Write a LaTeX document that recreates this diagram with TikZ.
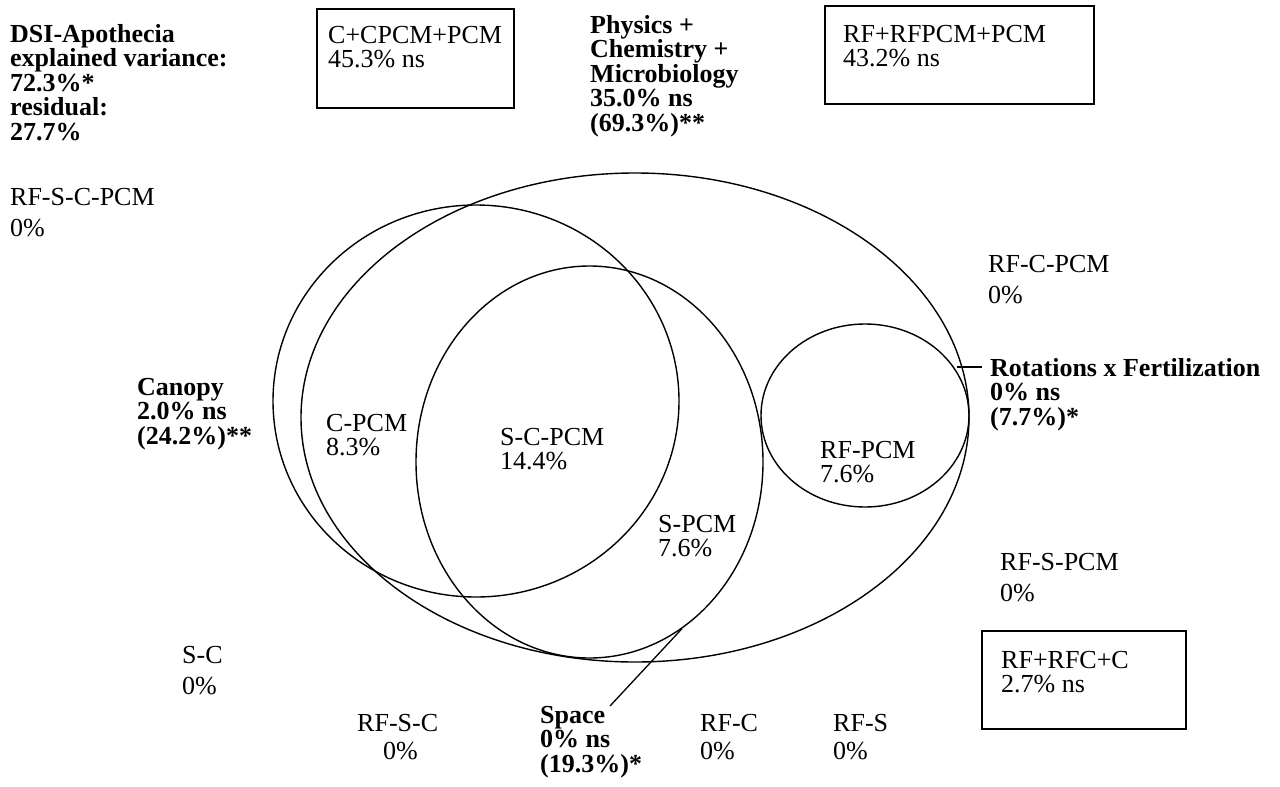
\documentclass[tikz,border=0pt]{standalone}
\usepackage{fontspec}
\setmainfont{Liberation Serif}
\usetikzlibrary{positioning,shapes.geometric}

\tikzset{
  set/.style={draw, ellipse, line width=1.4pt, inner sep=0pt},
  lab/.style={anchor=north west, inner sep=0pt, align=left, font=\fontsize{26}{24.5}\selectfont},
  zero/.style={lab, font=\fontsize{26}{#1}\selectfont},
  zero/.default=31,
  head/.style={lab, font=\fontsize{26}{24.5}\selectfont\bfseries},
  frame/.style={draw, line width=1.6pt, anchor=north west, inner sep=0pt},
}

\begin{document}
\begin{tikzpicture}[x=1pt, y=-1pt]
\useasboundingbox (0,0) rectangle (1280,787);

% the four sets
\node[set, minimum width=668pt, minimum height=489pt] (pcm) at (635,417.5) {};
\node[set, minimum width=406pt, minimum height=392pt] (can) at (476,401) {};
\node[set, minimum width=347pt, minimum height=392pt] (spc) at (589.5,462) {};
\node[set, minimum width=208pt, minimum height=183pt] (rf) at (865,415.5) {};

% title
\node[head] (title) at (10,24) {DSI-Apothecia\\explained variance:\\72.3\%*\\residual:\\27.7\%};
\node[zero] (rfscpcm) at (10,188) {RF-S-C-PCM\\0\%};

% boxes
\node[frame, minimum width=197pt, minimum height=99pt] (cbox) at (316,8) {};
\node[lab, below right=18pt and 12pt of cbox.north west] (ctext) {C+CPCM+PCM\\45.3\% ns};
\node[frame, minimum width=269pt, minimum height=98pt] (rfbox) at (824,5) {};
\node[lab, below right=20pt and 19pt of rfbox.north west] (rftext) {RF+RFPCM+PCM\\43.2\% ns};
\node[frame, minimum width=204pt, minimum height=98pt] (rfcbox) at (981,630) {};
\node[lab, below right=21pt and 20pt of rfcbox.north west] (rfctext) {RF+RFC+C\\2.7\% ns};

% set names
\node[head] (phys) at (590,15) {Physics +\\Chemistry +\\Microbiology\\35.0\% ns\\(69.3\%)**};
\node[head] (canopy) at (137,378) {Canopy\\2.0\% ns\\(24.2\%)**};
\node[head] (rotfert) at (990,358) {Rotations x Fertilization\\0\% ns\\(7.7\%)*};
\node[head] (space) at (540,706) {Space\\0\% ns\\(19.3\%)*};

% fractions
\node[lab] (cpcm) at (326,414) {C-PCM\\8.3\%};
\node[lab] (scpcm) at (500,428) {S-C-PCM\\14.4\%};
\node[lab] (rfpcm) at (820,441) {RF-PCM\\7.6\%};
\node[lab] (spcm) at (658,515) {S-PCM\\7.6\%};
\node[zero] (rfcpcm) at (988,255) {RF-C-PCM\\0\%};
\node[zero] (rfspcm) at (1000,553) {RF-S-PCM\\0\%};
\node[zero] (sc) at (182,646) {S-C\\0\%};
\node[zero=28] (rfsc) at (357,714) {RF-S-C\\\hspace*{1em}0\%};
\node[zero=28] (rfc) at (700,714) {RF-C\\0\%};
\node[zero=28] (rfs) at (833,714) {RF-S\\0\%};

% pointers
\coordinate (rftick) at (957,367);
\coordinate (rfpin) at (982,367);
\draw[line width=1.3pt] (rftick) -- (rfpin);
\draw[line width=1.3pt] ([xshift=70pt]space.north west) -- (spc.-61);
\end{tikzpicture}
\end{document}
